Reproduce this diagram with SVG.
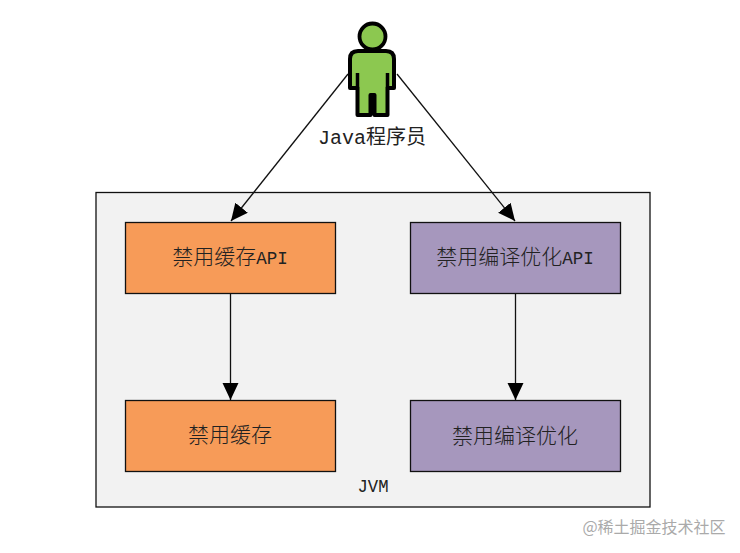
<svg xmlns="http://www.w3.org/2000/svg" width="740" height="553" viewBox="0 0 740 553">
<style>
text{font-family:"Liberation Mono","Noto Sans CJK SC",monospace;fill:#222;text-anchor:middle}
.l{font-size:21px;font-weight:300}
.a{font-size:17.500px}
.box{stroke:#111;stroke-width:1.300}
.o{fill:#f79b58}.p{fill:#a697bd}
.c{stroke:#111;stroke-width:1.300;fill:none;marker-end:url(#a)}
</style>
<defs><marker id="a" markerUnits="userSpaceOnUse" markerWidth="18" markerHeight="18" refX="17" refY="8" orient="auto"><path d="M0 0L17 8L0 16Z" fill="#000"/></marker></defs>
<rect width="740" height="553" fill="#fff"/>
<g id="jvm"><rect x="96" y="192.500" width="554" height="314.500" fill="#f2f2f2" stroke="#111" stroke-width="1.300"/><text x="373" y="492" style="font-size:19px" textLength="31" lengthAdjust="spacingAndGlyphs">JVM</text></g>
<g id="connectors">
<path class="c" d="M348 74L231 221"/>
<path class="c" d="M397 74L515 221"/>
<path class="c" d="M230.500 293V400"/>
<path class="c" d="M515.500 293V400"/>
</g>
<g id="programmer">
<path d="M350 59Q350 51 358 51H386Q394 51 394 59V88H387.500V115H374.500V95H370.500V115H357.500V88H350Z" fill="#8cc850" stroke="#000" stroke-width="4" stroke-linejoin="round"/>
<path d="M357.500 73V88M387.500 73V88" stroke="#000" stroke-width="3.500" fill="none"/>
<circle cx="372.500" cy="36.500" r="13" fill="#8cc850" stroke="#000" stroke-width="3.800"/>
<text x="372" y="144" style="font-size:20px">Java程序员</text>
</g>
<g id="n1"><rect class="box o" x="125.500" y="222.500" width="210" height="71"/><text class="l" x="230" y="264">禁用缓存<tspan class="a">API</tspan></text></g>
<g id="n2"><rect class="box p" x="410.500" y="222.500" width="210" height="71"/><text class="l" x="515" y="264">禁用编译优化<tspan class="a">API</tspan></text></g>
<g id="n3"><rect class="box o" x="125.500" y="400.500" width="210" height="71"/><text class="l" x="230" y="442">禁用缓存</text></g>
<g id="n4"><rect class="box p" x="410.500" y="400.500" width="210" height="71"/><text class="l" x="515" y="443">禁用编译优化</text></g>
<text x="654" y="533" style="font-size:16px;fill:#aaa;font-family:'Noto Sans CJK SC',sans-serif">@稀土掘金技术社区</text>
</svg>
